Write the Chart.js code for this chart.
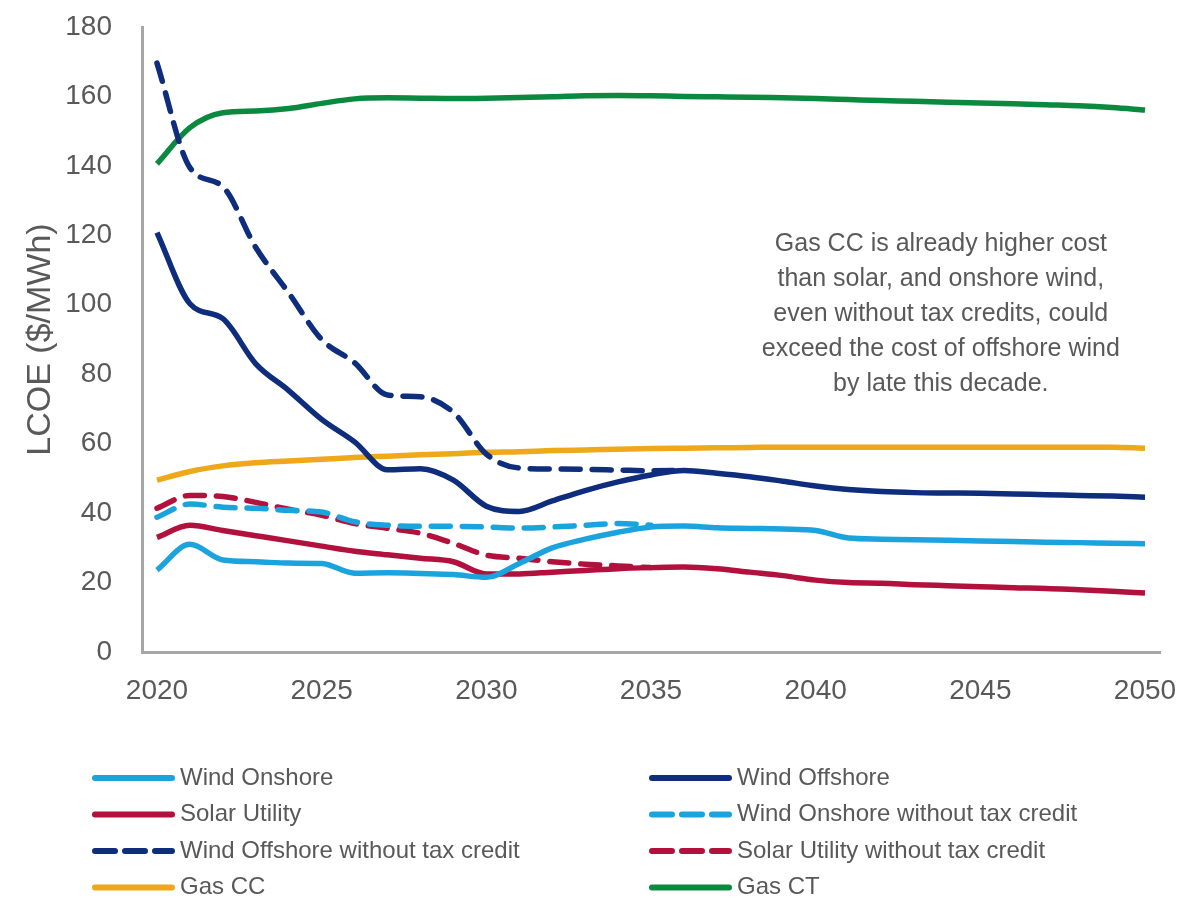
<!DOCTYPE html>
<html>
<head>
<meta charset="utf-8">
<script src="https://cdn.jsdelivr.net/npm/chart.js@4.4.1/dist/chart.umd.min.js"></script>
<style>
  body { margin: 0; background: #fff; }
  #wrap { width: 1182px; height: 899px; position: relative; }
</style>
</head>
<body>
<div id="wrap"><canvas id="lcoe"></canvas></div>
<script>
const years = [];
for (let y = 2020; y <= 2050; y++) years.push(y);

const xTicks = [2020, 2025, 2030, 2035, 2040, 2045, 2050];

const windOnshore = [23.6, 31, 26.5, 26, 25.6, 25.5, 22.7, 22.8, 22.6, 22.3, 21.5,
  25.5, 30, 32.5, 34.5, 36, 36.3, 35.8, 35.6, 35.4, 35, 32.8, 32.5, 32.3, 32.2, 32,
  31.8, 31.6, 31.5, 31.3, 31.2];
const windOffshore = [120.8, 100.3, 96, 83, 75.3, 67, 60.5, 52.5, 52.8, 49.5, 42,
  40.5, 43.5, 46.5, 49, 51, 52.3, 51.5, 50.5, 49.2, 47.8, 46.8, 46.2, 45.9, 45.8,
  45.7, 45.5, 45.3, 45.1, 44.9, 44.6];
const solarUtility = [33, 36.5, 35, 33.5, 32, 30.5, 29, 28, 27, 26, 22.5, 22.5, 23,
  23.5, 24, 24.3, 24.5, 24, 23, 22, 20.7, 20, 19.8, 19.4, 19.1, 18.8, 18.5, 18.3,
  17.9, 17.5, 17];
const windOnshoreNoCredit = [38.8, 42.6, 41.7, 41.4, 40.8, 40.3, 37.5, 36.5, 36.2,
  36.2, 36, 35.7, 36, 36.5, 37, 36.5];
const windOffshoreNoCredit = [169.6, 139.5, 134, 116.5, 103.4, 90, 83.3, 74, 73.5,
  69, 57, 53, 52.7, 52.6, 52.4, 52.2, 52.3];
const solarUtilityNoCredit = [41.4, 45.1, 44.8, 43.1, 41.1, 39.4, 37, 35.6, 34.2,
  31.3, 27.9, 27, 26, 25.3, 24.8, 24.3];
const gasCC = [49.5, 52, 53.6, 54.5, 55, 55.5, 56, 56.4, 56.8, 57.1, 57.5, 57.7, 58,
  58.2, 58.4, 58.6, 58.7, 58.8, 58.9, 59, 59, 59, 59, 59, 59, 59, 59, 59, 59, 59, 58.7];
const gasCT = [140.6, 151, 155.3, 155.8, 156.5, 158, 159.3, 159.6, 159.5, 159.4,
  159.5, 159.7, 159.9, 160.2, 160.3, 160.2, 160, 159.9, 159.8, 159.6, 159.4, 159.1,
  158.8, 158.6, 158.3, 158.1, 157.9, 157.6, 157.3, 156.8, 156.1];

const noteLines = [
  "Gas CC is already higher cost",
  "than solar, and onshore wind,",
  "even without tax credits, could",
  "exceed the cost of offshore wind",
  "by late this decade."
];

const textColor = "#595959";
const fontFamily = "'Liberation Sans', Arial, sans-serif";

function pts(values) {
  return values.map((v, i) => ({ x: years[i], y: v }));
}

function series(label, values, color, dashed) {
  return {
    label: label,
    data: pts(values),
    borderColor: color,
    backgroundColor: color,
    borderWidth: 5.5,
    borderDash: dashed ? [19, 12] : [],
    borderCapStyle: dashed ? "round" : "butt",
    pointRadius: 0,
    cubicInterpolationMode: "monotone",
    fill: false,
  };
}

// two-column legend under the plot
const pairLegend = {
  id: "pairLegend",
  afterDraw(chart) {
    const ctx = chart.ctx;
    const colX = [92, 649];
    ctx.save();
    ctx.font = "24px " + fontFamily;
    ctx.textBaseline = "middle";
    chart.data.datasets.forEach((ds, i) => {
      const x = colX[i % 2];
      const y = 778 + Math.floor(i / 2) * 36.5;
      ctx.strokeStyle = ds.borderColor;
      ctx.lineWidth = 6;
      ctx.lineCap = "round";
      ctx.setLineDash(ds.borderDash.length ? [20, 10] : []);
      ctx.beginPath();
      ctx.moveTo(x + 3, y);
      ctx.lineTo(x + 80, y);
      ctx.stroke();
      ctx.setLineDash([]);
      ctx.fillStyle = textColor;
      ctx.fillText(ds.label, x + 88, y);
    });
    ctx.restore();
  },
};

// annotation text inside the plot
const noteText = {
  id: "noteText",
  afterDraw(chart) {
    const ctx = chart.ctx;
    const cx = chart.scales.x.getPixelForValue(2043.8);
    const top = chart.scales.y.getPixelForValue(117.5);
    ctx.save();
    ctx.font = "25px " + fontFamily;
    ctx.fillStyle = textColor;
    ctx.textAlign = "center";
    ctx.textBaseline = "middle";
    noteLines.forEach((line, i) => ctx.fillText(line, cx, top + i * 35));
    ctx.restore();
  },
};

const chart = new Chart(document.getElementById("lcoe"), {
  type: "line",
  data: {
    datasets: [
      series("Wind Onshore", windOnshore, "#1ba3de", false),
      series("Wind Offshore", windOffshore, "#0e2d7c", false),
      series("Solar Utility", solarUtility, "#b3113d", false),
      series("Wind Onshore without tax credit", windOnshoreNoCredit, "#1ba3de", true),
      series("Wind Offshore without tax credit", windOffshoreNoCredit, "#0e2d7c", true),
      series("Solar Utility without tax credit", solarUtilityNoCredit, "#b3113d", true),
      series("Gas CC", gasCC, "#eea81a", false),
      series("Gas CT", gasCT, "#0b8a3f", false),
    ],
  },
  options: {
    responsive: true,
    maintainAspectRatio: false,
    animation: false,
    layout: {
      padding: { top: 27, right: 22, bottom: 187, left: 0 },
    },
    plugins: {
      legend: { display: false },
      tooltip: { enabled: false },
    },
    scales: {
      x: {
        type: "linear",
        min: 2019.545,
        max: 2050.455,
        afterBuildTicks: (axis) => {
          axis.ticks = xTicks.map((v) => ({ value: v }));
        },
        afterFit: (axis) => {
          axis.height = 60;
          axis.paddingLeft = 0;
          axis.paddingRight = 0;
        },
        grid: { display: false, drawTicks: false },
        border: { display: true, color: "#a6a6a6", width: 3 },
        ticks: {
          color: textColor,
          font: { family: fontFamily, size: 28 },
          padding: 22,
          maxRotation: 0,
          callback: (v) => String(v),
        },
      },
      y: {
        min: 0,
        max: 180,
        afterFit: (axis) => {
          axis.width = 142;
          axis.paddingTop = 0;
          axis.paddingBottom = 0;
        },
        grid: { display: false, drawTicks: false },
        border: { display: true, color: "#a6a6a6", width: 3 },
        ticks: {
          stepSize: 20,
          color: textColor,
          font: { family: fontFamily, size: 28 },
          padding: 30,
        },
        title: {
          display: true,
          text: "LCOE ($/MWh)",
          color: textColor,
          font: { family: fontFamily, size: 34 },
          padding: { top: 20, bottom: 0 },
        },
      },
    },
  },
  plugins: [pairLegend, noteText],
});
</script>
</body>
</html>
